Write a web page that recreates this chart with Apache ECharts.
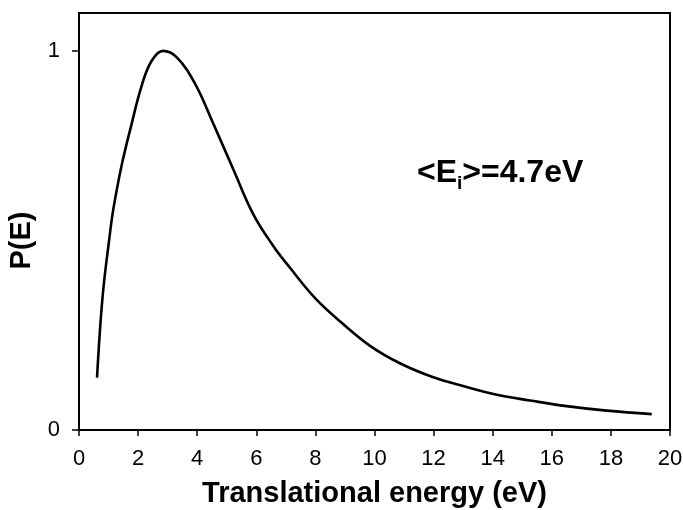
<!DOCTYPE html>
<html>
<head>
<meta charset="utf-8">
<script src="https://cdn.jsdelivr.net/npm/echarts@6/dist/echarts.min.js"></script>
<style>
html,body{margin:0;padding:0;background:#fff;}
#chart{width:683px;height:510px;}
</style>
</head>
<body>
<div id="chart"></div>
<script>
const energy = [0.61, 0.80, 1.05, 1.16, 1.44, 1.78, 2.12, 2.46, 2.85, 3.31, 3.93, 4.55, 5.22, 5.90, 6.58, 7.14, 7.99, 8.83, 9.85, 10.86, 11.99, 13.0, 14.14, 15.26, 16.5, 17.86, 19.38];
const prob = [0.138, 0.353, 0.52, 0.582, 0.697, 0.807, 0.908, 0.974, 1.0, 0.983, 0.913, 0.807, 0.688, 0.569, 0.485, 0.428, 0.348, 0.287, 0.222, 0.176, 0.139, 0.116, 0.093, 0.078, 0.063, 0.051, 0.042];
const xTicks = [0, 2, 4, 6, 8, 10, 12, 14, 16, 18, 20];
const yTicks = [0, 1];
const xTitle = 'Translational energy (eV)';
const yTitle = 'P(E)';

const font = "'Liberation Sans', Arial, sans-serif";
const chart = echarts.init(document.getElementById('chart'), null, {renderer: 'canvas'});
const option = {
  backgroundColor: '#fff',
  animation: false,
  grid: {left: 79, right: 13, top: 13, bottom: 80, show: true, borderColor: '#000', borderWidth: 2, containLabel: false, outerBoundsMode: 'none'},
  xAxis: {
    type: 'value', min: 0, max: 20, interval: 2,
    name: xTitle, nameLocation: 'middle', nameGap: 49,
    nameTextStyle: {fontFamily: font, fontSize: 29, fontWeight: 'bold', color: '#000'},
    axisLine: {show: true, onZero: false, lineStyle: {color: '#000', width: 2}},
    axisTick: {show: true, length: 6, lineStyle: {color: '#000', width: 1.5}, customValues: xTicks},
    axisLabel: {fontFamily: font, fontSize: 22, color: '#000', margin: 18, customValues: xTicks},
    splitLine: {show: false}
  },
  yAxis: {
    type: 'value', min: 0, max: 1.1,
    name: yTitle, nameLocation: 'middle', nameGap: 42, nameRotate: 90,
    nameTextStyle: {fontFamily: font, fontSize: 29, fontWeight: 'bold', color: '#000', padding: [0, 38, 0, 0]},
    axisLine: {show: true, onZero: false, lineStyle: {color: '#000', width: 2}},
    axisTick: {show: true, length: 7, lineStyle: {color: '#000', width: 1.5}, customValues: yTicks},
    axisLabel: {fontFamily: font, fontSize: 22, color: '#000', margin: 19, customValues: yTicks},
    splitLine: {show: false}
  },
  graphic: [{
    type: 'text', left: 417, top: 157, z: 10,
    style: {
      text: '<E{sub|i}>=4.7eV',
      fontFamily: font, fontSize: 32, fontWeight: 'bold', fill: '#000',
      rich: {
        sub: {fontFamily: font, fontSize: 19, fontWeight: 'bold', fill: '#000', verticalAlign: 'middle', padding: [21, 0, 0, 0]}
      }
    }
  }],
  series: [{
    type: 'line',
    data: energy.map((e, i) => [e, prob[i]]),
    smooth: 0.4,
    showSymbol: false,
    lineStyle: {color: '#000', width: 2.6},
    silent: true
  }]
};
chart.setOption(option);
</script>
</body>
</html>
